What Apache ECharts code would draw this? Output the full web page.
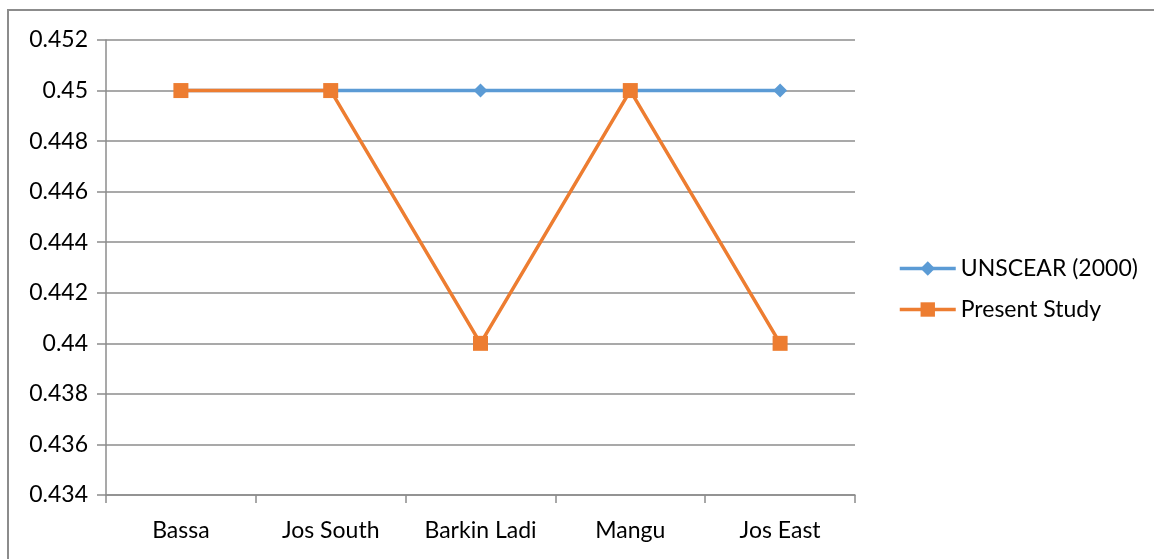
<!DOCTYPE html>
<html><head><meta charset="utf-8">
<script src="https://cdn.jsdelivr.net/npm/echarts@6/dist/echarts.min.js"></script>
<style>html,body{margin:0;padding:0;background:#fff}#c{width:1154px;height:559px}</style>
</head><body><div id="c"></div>
<script>
var categories = ['Bassa', 'Jos South', 'Barkin Ladi', 'Mangu', 'Jos East'];
var unscear = [0.45, 0.45, 0.45, 0.45, 0.45];
var present = [0.45, 0.45, 0.44, 0.45, 0.44];
var seriesNames = ['UNSCEAR (2000)', 'Present Study'];

var FONT = 'Lato, "Open Sans", sans-serif';
var chart = echarts.init(document.getElementById('c'));
chart.setOption({
  animation: false,
  backgroundColor: '#fff',
  graphic: [{
    type: 'rect', shape: {x: 8, y: 10, width: 1200, height: 600},
    style: {fill: 'none', stroke: '#8c8c8c', lineWidth: 2}, silent: true
  }],
  grid: {left: 106, right: 299, top: 40, bottom: 64, containLabel: false},
  legend: {
    orient: 'vertical', left: 893, top: 252,
    itemWidth: 56, itemHeight: 18, itemGap: 18,
    lineStyle: {width: 3.5},
    textStyle: {fontFamily: FONT, fontSize: 23, color: '#000'},
    data: seriesNames
  },
  xAxis: {
    type: 'category', data: categories, boundaryGap: true,
    axisLine: {lineStyle: {color: '#8c8c8c', width: 1.5}},
    axisTick: {show: true, length: 8, lineStyle: {color: '#8c8c8c', width: 1.5}},
    axisLabel: {fontFamily: FONT, fontSize: 23, color: '#000', margin: 24}
  },
  yAxis: {
    type: 'value', min: 0.434, max: 0.452, interval: 0.002,
    axisLine: {show: true, lineStyle: {color: '#8c8c8c', width: 1.5}},
    axisTick: {show: true, length: 9, lineStyle: {color: '#8c8c8c', width: 1.5}},
    splitLine: {lineStyle: {color: '#8c8c8c', width: 1.5}},
    axisLabel: {fontFamily: FONT, fontSize: 23, color: '#000', margin: 18,
      formatter: function (v) { return String(+v.toFixed(3)); }}
  },
  series: [
    {name: seriesNames[0], type: 'line', data: unscear, symbol: 'diamond', symbolSize: 14,
     color: '#5B9BD5', lineStyle: {width: 3.5, color: '#5B9BD5'}, itemStyle: {color: '#5B9BD5'}, z: 2},
    {name: seriesNames[1], type: 'line', data: present, symbol: 'rect', symbolSize: 15,
     color: '#ED7D31', lineStyle: {width: 3.5, color: '#ED7D31'}, itemStyle: {color: '#ED7D31'}, z: 3}
  ]
});
</script></body></html>
